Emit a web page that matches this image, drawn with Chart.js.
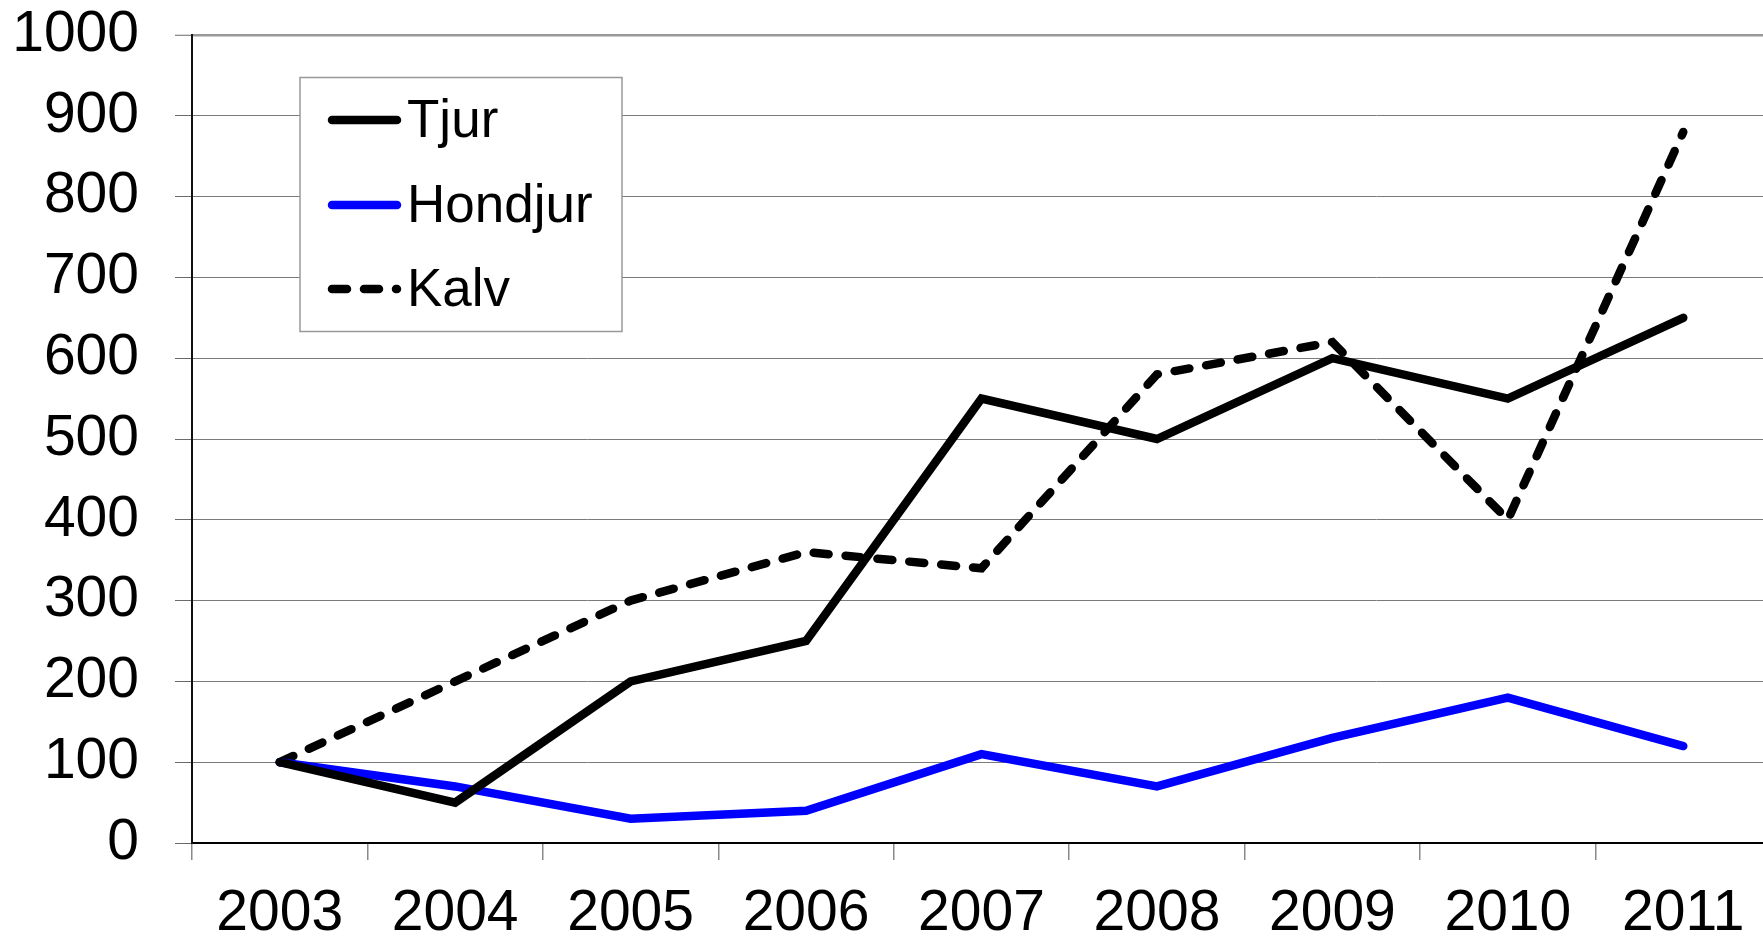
<!DOCTYPE html>
<html>
<head>
<meta charset="utf-8">
<script src="https://cdn.jsdelivr.net/npm/chart.js@4/dist/chart.umd.min.js"></script>
<style>
  html, body { margin: 0; padding: 0; background: #fff; overflow: hidden; }
  #wrap { position: absolute; left: 0; top: 0; width: 1780px; height: 938px; }
</style>
</head>
<body>
<div id="wrap"><canvas id="c" width="1780" height="938"></canvas></div>
<script>
const years = ['2003','2004','2005','2006','2007','2008','2009','2010','2011'];
const tjur = [100, 50, 200, 250, 550, 500, 600, 550, 650];
const hondjur = [100, 70, 30, 40, 110, 70, 130, 180, 120];
const kalv = [100, 200, 300, 360, 340, 580, 620, 400, 880];
const yTicks = [0, 100, 200, 300, 400, 500, 600, 700, 800, 900, 1000];

const FONT = '"Liberation Sans", Arial, sans-serif';

const legendPlugin = {
  id: 'boxLegend',
  afterDraw(chart) {
    const ctx = chart.ctx;
    const bx = 300, by = 77.5, bw = 322, bh = 254;
    ctx.save();
    ctx.fillStyle = '#ffffff';
    ctx.fillRect(bx, by, bw, bh);
    ctx.strokeStyle = '#999999';
    ctx.lineWidth = 1.5;
    ctx.strokeRect(bx, by, bw, bh);
    const rows = [120, 205, 289];
    chart.data.datasets.forEach((ds, i) => {
      const y = rows[i];
      ctx.beginPath();
      ctx.strokeStyle = ds.borderColor;
      ctx.lineWidth = ds.borderWidth;
      ctx.lineCap = 'round';
      ctx.setLineDash(ds.borderDash || []);
      ctx.moveTo(332, y);
      ctx.lineTo(397, y);
      ctx.stroke();
      ctx.setLineDash([]);
      ctx.fillStyle = '#000';
      ctx.font = '53px ' + FONT;
      ctx.textAlign = 'left';
      ctx.textBaseline = 'alphabetic';
      ctx.fillText(ds.label, 407, y + 17);
    });
    ctx.restore();
  }
};

new Chart(document.getElementById('c'), {
  type: 'line',
  data: {
    labels: years,
    datasets: [
      { label: 'Tjur', data: tjur, borderColor: '#000000', borderWidth: 8.5, borderCapStyle: 'round', borderJoinStyle: 'miter', pointRadius: 0, tension: 0, fill: false },
      { label: 'Hondjur', data: hondjur, borderColor: '#0000ff', borderWidth: 8.5, borderCapStyle: 'round', borderJoinStyle: 'miter', pointRadius: 0, tension: 0, fill: false },
      { label: 'Kalv', data: kalv, borderColor: '#000000', borderWidth: 8.5, borderDash: [15, 17], borderCapStyle: 'round', borderJoinStyle: 'miter', pointRadius: 0, tension: 0, fill: false }
    ]
  },
  options: {
    responsive: false,
    animation: false,
    events: [],
    layout: { padding: { left: 0, top: 35, right: 9, bottom: 0 } },
    plugins: { legend: { display: false }, tooltip: { enabled: false } },
    scales: {
      x: {
        offset: true,
        grid: { offset: true, drawOnChartArea: false, drawTicks: true, tickLength: 17, color: '#999999', tickColor: '#8a8a8a', lineWidth: 1.5 },
        border: { display: true, color: '#000000', width: 2 },
        ticks: { font: { family: FONT, size: 57 }, color: '#000', padding: 20, maxRotation: 0, autoSkip: false },
        afterFit(s) { s.height = 95; s.paddingLeft = 0; s.paddingRight = 0; }
      },
      y: {
        min: 0, max: 1000,
        afterBuildTicks(s) { s.ticks = yTicks.map(v => ({ value: v })); },
        grid: {
          color: c => (c.tick && c.tick.value === 1000) ? '#999999' : '#7a7a7a',
          lineWidth: c => (c.tick && c.tick.value === 1000) ? 2.5 : 1,
          tickColor: '#6a6a6a',
          tickWidth: 1,
          tickLength: 17,
          drawTicks: true
        },
        border: { display: true, color: '#111111', width: 2 },
        ticks: { font: { family: FONT, size: 57 }, color: '#000', padding: 36, callback: v => String(v) },
        afterFit(s) { s.width = 192; s.paddingTop = 0; s.paddingBottom = 0; }
      }
    }
  },
  plugins: [legendPlugin]
});
</script>
</body>
</html>
